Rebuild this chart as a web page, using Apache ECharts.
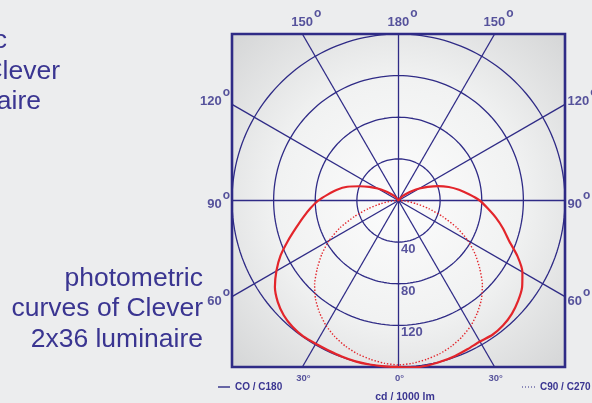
<!DOCTYPE html>
<html>
<head>
<meta charset="utf-8">
<script src="https://cdn.jsdelivr.net/npm/echarts@6/dist/echarts.min.js"></script>
<style>
  html, body { margin: 0; padding: 0; background: #ecedee; }
  #chart { width: 592px; height: 403px; }
</style>
</head>
<body>
<div id="chart"></div>
<script>
// Luminous intensity in cd / 1000 lm, gamma measured from nadir (degrees)
const gammaC0 = [0, 5, 10, 15, 20, 25, 30, 35, 40, 45, 50, 55, 60, 65, 70, 75, 80, 85, 90,
                 95, 100, 105, 110, 115, 120, 125, 130, 135, 140, 150, 160, 170, 180];
// C0 half-plane (drawn to the right)
const cdC0 = [160, 161, 161, 160, 159, 157.5, 156.5, 157.5, 156.5, 154, 150, 145, 137.5, 126, 113, 104, 95, 86, 78,
              68, 59, 50, 40.5, 31, 23, 16, 10.5, 6.5, 3.5, 1, 0, 0, 0];
// C180 half-plane (drawn to the left)
const cdC180 = [160, 160, 160, 160, 159.5, 159, 159, 159.5, 158.5, 156, 151.5, 145, 135.5, 125, 113, 102, 93, 85, 77,
                68, 60, 51, 40, 31, 23, 16, 10.5, 6.5, 3.5, 1, 0, 0, 0];

// C90 / C270 plane (symmetric)
const gammaC90 = [0, 5, 10, 15, 20, 25, 30, 35, 40, 45, 50, 55, 60, 65, 70, 75, 80, 85, 90];
const cdC90 = [158, 157, 155, 152.5, 149, 144.5, 139, 132, 124, 114, 102, 90, 77, 62, 45, 30, 17, 7, 0];

// Polar grid
const ringValues = [40, 80, 120, 160];
const ringLabels = ['40', '80', '120'];
const rayAngles = [0, 30, 60, 90, 120, 150, 180, 210, 240, 270, 300, 330];
const axisMax = 160;

const NAVY = '#2f2b86';
const TEXT = '#3a3591';
const RED = '#e3252b';
const FONT = 'Liberation Sans, Arial, sans-serif';

function toXY(gamma, cd, side) {
  const t = gamma * Math.PI / 180;
  return [side * cd * Math.sin(t), -cd * Math.cos(t)];
}

// Left half from zenith down to nadir, then right half back up
function planeCurve(gammas, leftVals, rightVals) {
  const pts = [];
  for (let i = gammas.length - 1; i >= 0; i--) pts.push(toXY(gammas[i], leftVals[i], -1));
  for (let i = 1; i < gammas.length; i++) pts.push(toXY(gammas[i], rightVals[i], 1));
  return pts;
}

const ringSeries = ringValues.map(function (r) {
  const pts = [];
  for (let a = 0; a <= 360; a += 2) pts.push(toXY(a, r, 1));
  return {
    type: 'line', data: pts, symbol: 'none', silent: true, z: 2,
    lineStyle: { color: NAVY, width: 1.3 }
  };
});

// Rays run from the centre out to the frame
const rayEnds = rayAngles.map(function (a) {
  const t = a * Math.PI / 180;
  const s = Math.sin(t), c = Math.cos(t);
  const k = axisMax / Math.max(Math.abs(s), Math.abs(c));
  const x = Math.abs(s * k) < 1e-6 ? 0 : s * k;
  const y = Math.abs(c * k) < 1e-6 ? 0 : -c * k;
  return { angle: a, end: [x, y] };
});

const raySeries = {
  type: 'lines', coordinateSystem: 'cartesian2d', silent: true, z: 2,
  lineStyle: { color: NAVY, width: 1.3, opacity: 1 },
  data: rayEnds.map(function (r) { return { coords: [[0, 0], r.end] }; })
};

// Angle tick labels at the frame
const sideOffset = { 60: 1, 90: 0, 120: -7 };
const angleLabelData = rayEnds.map(function (r) {
  const shown = r.angle <= 180 ? r.angle : 360 - r.angle;
  const x = r.end[0], y = r.end[1];
  let label;
  if (Math.abs(y - axisMax) < 1e-6) {
    label = { position: 'top', distance: 0, offset: [4, -5], formatter: '{n|' + shown + '}{d|o}' };
  } else if (Math.abs(y + axisMax) < 1e-6) {
    label = { position: 'bottom', distance: 6, offset: [1, 0], formatter: '{s|' + shown + '°}' };
  } else if (x > 0) {
    label = { position: 'right', distance: 2.5, offset: [0, sideOffset[shown] || 0], formatter: '{n|' + shown + '}{d|o}' };
  } else {
    label = { position: 'left', distance: 2, offset: [0, sideOffset[shown] || 0], formatter: '{n|' + shown + '}{d|o}' };
  }
  return { value: [x, y], label: label };
});

const ringLabelData = ringLabels.map(function (t, i) {
  return {
    value: [0, -ringValues[i]],
    label: { formatter: t }
  };
});

const chart = echarts.init(document.getElementById('chart'), null, { renderer: 'canvas' });

chart.setOption({
  backgroundColor: '#ecedee',
  animation: false,
  grid: {
    left: 232, top: 34, width: 333, height: 333,
    show: true,
    borderColor: NAVY, borderWidth: 2.6,
    backgroundColor: new echarts.graphic.RadialGradient(0.5, 0.5, 0.72, [
      { offset: 0, color: '#fcfcfc' },
      { offset: 0.5, color: '#f1f2f2' },
      { offset: 1, color: '#d3d4d5' }
    ])
  },
  xAxis: { type: 'value', min: -axisMax, max: axisMax, show: false },
  yAxis: { type: 'value', min: -axisMax, max: axisMax, show: false },
  legend: [
    {
      left: 218, top: 382, padding: 0, selectedMode: false,
      itemWidth: 12, itemHeight: 1.4,
      textStyle: { color: TEXT, fontFamily: FONT, fontWeight: 'bold', fontSize: 10 },
      data: [{ name: 'CO / C180', icon: 'rect', itemStyle: { color: NAVY } }]
    },
    {
      left: 522, top: 382, padding: 0, selectedMode: false,
      itemWidth: 13, itemHeight: 1.3,
      textStyle: { color: TEXT, fontFamily: FONT, fontWeight: 'bold', fontSize: 10 },
      data: [{
        name: 'C90 / C270',
        icon: 'path://M0,0h1v1h-1zM3,0h1v1h-1zM6,0h1v1h-1zM9,0h1v1h-1zM12,0h1v1h-1z',
        itemStyle: { color: NAVY }
      }]
    }
  ],
  series: ringSeries.concat([
    raySeries,
    {
      name: 'C90 / C270', type: 'line', symbol: 'none', z: 4, smooth: 0.2,
      data: planeCurve(gammaC90, cdC90, cdC90),
      lineStyle: { color: RED, width: 1.4, type: [1.4, 1.8] },
      itemStyle: { color: RED }
    },
    {
      name: 'CO / C180', type: 'line', symbol: 'none', z: 5, smooth: 0.2,
      data: planeCurve(gammaC0, cdC180, cdC0),
      lineStyle: { color: RED, width: 2.2 },
      itemStyle: { color: RED }
    },
    {
      type: 'scatter', symbolSize: 0, silent: true, z: 6,
      data: angleLabelData,
      label: {
        show: true, color: NAVY, fontFamily: FONT,
        rich: {
          n: { fontSize: 13, fontWeight: 'bold', color: NAVY, fontFamily: FONT, lineHeight: 21, verticalAlign: 'bottom' },
          d: { fontSize: 12, fontWeight: 'bold', color: NAVY, fontFamily: FONT, verticalAlign: 'top', padding: [0, 0, 0, 1] },
          s: { fontSize: 9.5, fontWeight: 'bold', color: NAVY, fontFamily: FONT }
        }
      }
    },
    {
      type: 'scatter', symbolSize: 0, silent: true, z: 6,
      data: ringLabelData,
      label: {
        show: true, position: 'bottom', distance: 1, align: 'left', offset: [2.5, 0],
        color: NAVY, fontFamily: FONT, fontWeight: 'bold', fontSize: 13
      }
    }
  ]),
  graphic: [
    {
      type: 'text', x: 405, y: 397, z: 10, silent: true,
      style: {
        text: 'cd / 1000 lm', align: 'center', verticalAlign: 'middle',
        font: 'bold 10.5px ' + FONT, fill: TEXT
      }
    },
    {
      type: 'text', x: 203, y: 263.6, scaleX: 1.06, z: 10, silent: true,
      style: {
        text: 'photometric\ncurves of Clever\n2x36 luminaire',
        align: 'right', verticalAlign: 'top', lineHeight: 30.5,
        font: '25px ' + FONT, fill: TEXT
      }
    },
    {
      type: 'text', x: -131.4, y: 26.3, scaleX: 1.06, z: 10, silent: true,
      style: {
        text: 'photometric\ncurves of Clever\n2x36 luminaire',
        align: 'left', verticalAlign: 'top', lineHeight: 30.5,
        font: '25px ' + FONT, fill: TEXT
      }
    }
  ]
});
</script>
</body>
</html>
